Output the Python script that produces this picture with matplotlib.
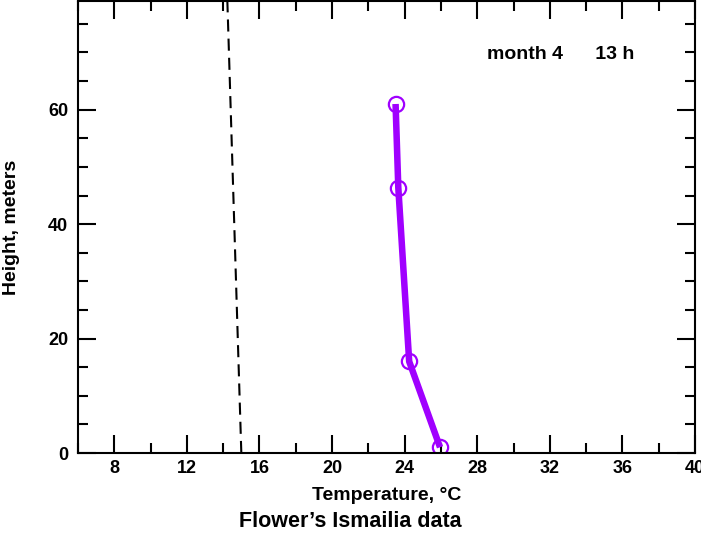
import numpy as np
import matplotlib.pyplot as plt
from matplotlib.ticker import MultipleLocator

plt.rcParams['font.family'] = ['Liberation Sans', 'DejaVu Sans']

# profile data
temp = [23.5, 23.65, 24.25, 25.95]
height = [61.0, 46.4, 16.0, 1.0]

# dry adiabat reference (dashed)
adiabat_temp = [15.0, 14.23]
adiabat_height = [0.0, 79.0]

label_text = "month 4      13 h"
title_text = "Flower\u2019s Ismailia data"

fig = plt.figure(figsize=(7.01, 5.42), dpi=100)
ax = fig.add_axes([78/701, 1 - 453/542, (695-78)/701, (453-1)/542])

ax.plot(adiabat_temp, adiabat_height, color='black', lw=1.5, ls=(0, (5.8, 3.4)))
ax.plot(temp, height, color='#a000ff', lw=4.7, solid_capstyle='butt')
ax.plot(temp, height, ls='none', marker='o', ms=11, mfc='none', mec='#a000ff', mew=1.6)

ax.set_xlim(6, 40)
ax.set_ylim(0, 79)
ax.xaxis.set_minor_locator(MultipleLocator(2))
ax.yaxis.set_major_locator(MultipleLocator(20))
ax.yaxis.set_minor_locator(MultipleLocator(5))
ax.set_xticks(np.arange(8, 41, 4))

ax.tick_params(which='both', direction='in', top=True, right=True, width=1.5)
ax.tick_params(which='major', length=13, labelsize=13)
ax.tick_params(axis='x', which='major', pad=5)
ax.tick_params(axis='y', which='major', pad=7)
ax.tick_params(which='minor', length=7)
for lab in ax.get_xticklabels() + ax.get_yticklabels():
    lab.set_fontweight('bold')
for s in ax.spines.values():
    s.set_linewidth(1.5)

ax.set_xlabel("Temperature, \u00b0C", fontsize=14, fontweight='bold', labelpad=7)
ax.set_ylabel("Height, meters", fontsize=14, fontweight='bold', labelpad=20)
ax.text(0.901, (453 - 59) / 452, label_text, transform=ax.transAxes, fontsize=14,
        fontweight='bold', ha='right', va='baseline')
fig.text(0.5, 15 / 542, title_text, fontsize=15.5, fontweight='bold', ha='center', va='baseline')

fig.savefig('out.png', dpi=100)
